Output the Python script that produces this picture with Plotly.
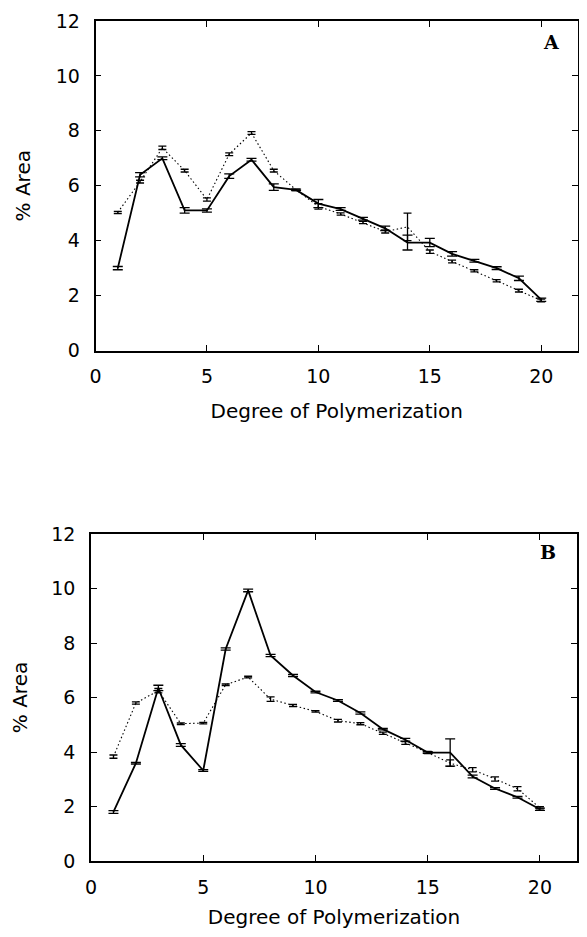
import plotly.graph_objects as go

dp = list(range(1, 21))

# Panel A
a_solid = [3.0, 6.4, 7.0, 5.1, 5.1, 6.35, 6.95, 5.95, 5.85, 5.35, 5.15, 4.8, 4.45, 3.93, 3.93, 3.52, 3.27, 3.0, 2.63, 1.85]
a_solid_err = [0.06, 0.08, 0.05, 0.1, 0.06, 0.08, 0.05, 0.12, 0.03, 0.15, 0.05, 0.05, 0.08, 0.27, 0.15, 0.08, 0.05, 0.05, 0.08, 0.06]
a_dot = [5.03, 6.15, 7.38, 6.55, 5.5, 7.15, 7.92, 6.55, 5.85, 5.25, 4.97, 4.66, 4.33, 4.5, 3.6, 3.24, 2.9, 2.54, 2.18, 1.82]
a_dot_err = [0.04, 0.05, 0.06, 0.05, 0.06, 0.05, 0.05, 0.05, 0.03, 0.1, 0.04, 0.04, 0.05, 0.5, 0.06, 0.05, 0.04, 0.04, 0.05, 0.05]

# Panel B
b_solid = [1.8, 3.59, 6.35, 4.26, 3.32, 7.78, 9.93, 7.54, 6.81, 6.2, 5.89, 5.43, 4.84, 4.45, 3.98, 3.98, 3.1, 2.66, 2.34, 1.9]
b_solid_err = [0.05, 0.03, 0.1, 0.05, 0.03, 0.04, 0.05, 0.04, 0.04, 0.03, 0.03, 0.04, 0.03, 0.05, 0.03, 0.5, 0.05, 0.03, 0.03, 0.04]
b_dot = [3.83, 5.8, 6.25, 5.04, 5.06, 6.47, 6.75, 5.94, 5.71, 5.49, 5.15, 5.04, 4.69, 4.33, 3.98, 3.59, 3.35, 3.01, 2.65, 1.95]
b_dot_err = [0.06, 0.04, 0.08, 0.03, 0.03, 0.03, 0.03, 0.08, 0.04, 0.03, 0.05, 0.04, 0.04, 0.05, 0.04, 0.12, 0.08, 0.08, 0.08, 0.04]

x_ticks = [0, 5, 10, 15, 20]
y_ticks = [0, 2, 4, 6, 8, 10, 12]

# page body adds an 8px margin around the figure
OFF = 8
W, H = 587 - 2 * OFF, 937 - 2 * OFF
FONT = "DejaVu Sans"

def px(x):
    return (x - OFF) / W

def py(y):
    return 1 - (y - OFF) / H

def err(vals, w):
    return dict(type="data", array=vals, visible=True, color="black", thickness=1.3, width=w)

DOT = dict(color="black", width=1.1, dash="1.5px,2.5px")
SOLID = dict(color="black", width=1.8)

fig = go.Figure()
fig.add_trace(go.Scatter(x=dp, y=a_dot, mode="lines", line=DOT,
                         error_y=err(a_dot_err, 4), xaxis="x", yaxis="y", showlegend=False))
fig.add_trace(go.Scatter(x=dp, y=a_solid, mode="lines", line=SOLID,
                         error_y=err(a_solid_err, 5), xaxis="x", yaxis="y", showlegend=False))
fig.add_trace(go.Scatter(x=dp, y=b_dot, mode="lines", line=DOT,
                         error_y=err(b_dot_err, 4), xaxis="x2", yaxis="y2", showlegend=False))
fig.add_trace(go.Scatter(x=dp, y=b_solid, mode="lines", line=SOLID,
                         error_y=err(b_solid_err, 5), xaxis="x2", yaxis="y2", showlegend=False))

def xax(domain, anchor):
    return dict(domain=domain, anchor=anchor, range=[0, 21.65], tickvals=x_ticks,
                ticks="inside", ticklen=6, tickwidth=1.3, tickcolor="black",
                showline=True, linecolor="black", linewidth=1.6, mirror="allticks",
                showgrid=False, zeroline=False, automargin=False,
                tickfont=dict(family=FONT, size=19, color="black"), ticklabelstandoff=8,
                title=dict(text="Degree of Polymerization", font=dict(family=FONT, size=20, color="black"), standoff=18))

def yax(domain, anchor):
    return dict(domain=domain, anchor=anchor, range=[0, 12], tickvals=y_ticks,
                ticks="inside", ticklen=6, tickwidth=1.3, tickcolor="black",
                showline=True, linecolor="black", linewidth=1.6, mirror="allticks",
                showgrid=False, zeroline=False, automargin=False,
                tickfont=dict(family=FONT, size=19, color="black"), ticklabelstandoff=10,
                title=dict(text="% Area", font=dict(family=FONT, size=20, color="black"), standoff=20))

fig.update_layout(
    width=W, height=H,
    margin=dict(l=0, r=0, t=0, b=0),
    paper_bgcolor="white", plot_bgcolor="white",
    xaxis=xax([px(95.5), min(1.0, px(578))], "y"),
    yaxis=yax([py(350.5), py(21)], "x"),
    xaxis2=xax([px(91), min(1.0, px(577))], "y2"),
    yaxis2=yax([py(861), py(534)], "x2"),
    annotations=[
        dict(text="<b>A</b>", x=px(551), y=py(42), xref="paper", yref="paper", showarrow=False,
             xanchor="center", yanchor="middle",
             font=dict(family="DejaVu Serif", size=19, color="black")),
        dict(text="<b>B</b>", x=px(548), y=py(552), xref="paper", yref="paper", showarrow=False,
             xanchor="center", yanchor="middle",
             font=dict(family="DejaVu Serif", size=19, color="black")),
    ],
)

fig.write_html("out.html")
